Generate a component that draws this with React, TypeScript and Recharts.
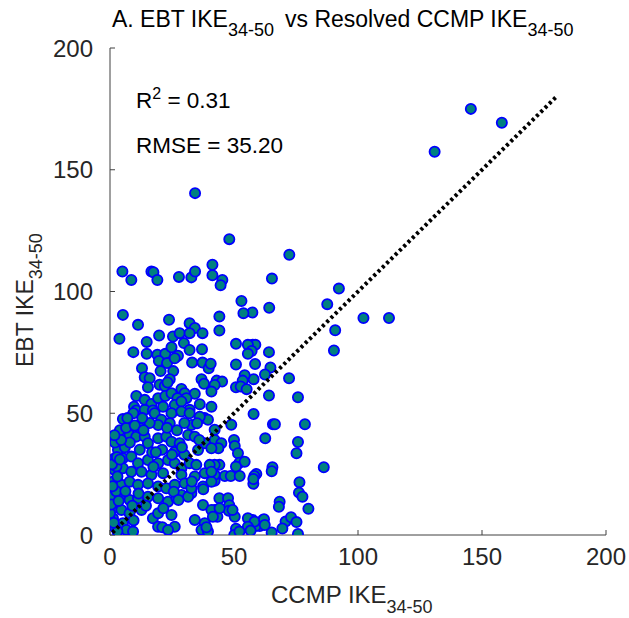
import React from 'react';
import { ScatterChart, Scatter, XAxis, YAxis } from 'recharts';

const ccmp = [
  158,145.5,130.9,34.3,112.5,102.2,92.3,87.6,90.8,90.3,
  86.2,48.1,72.3,65.3,41.3,5.0,8.6,16.7,17.5,19.1,
  27.8,32.8,34.3,41.3,45.3,44.6,64.2,57.4,53.8,53,
  44.1,44.1,57.5,58.6,55.6,50.8,57.1,55.6,64.1,58.5,
  50.8,64.7,62.5,57.9,54.3,53.5,43,45.2,42.2,50.8,
  52.7,55.1,72.2,64.1,75.8,57.9,65.7,66.5,78.6,62.6,
  75.8,75.2,65.5,65.2,59,58.2,57.8,76.4,76.2,77.6,
  68.4,68.1,80,61.7,57.4,60.4,58.8,65.2,70.8,73,
  75.2,69.5,75.8,48.9,42.2,44.9,43.7,50,50.3,51.6,
  52.2,54.3,50.8,44.1,42.2,46.3,48.7,52.3,57.8,42.2,
  44.1,47.6,48.1,47.9,42.2,43.3,50.3,55.6,58.3,62.1,
  62.4,55.6,56.7,50.8,50.1,52.2,
  5.2,11.3,23.8,3.8,14.8,19.8,25.4,28.1,32.1,34.2,
  37.3,32.1,9.4,14.8,19.1,22.3,24.8,29.8,32.1,37.1,
  27.4,19.7,23,26.1,33.1,37.3,39.8,40.6,12.9,20.4,
  25.5,14,16,24.1,15.3,20,22.1,23.2,36.9,37.9,
  40.9,28.8,30.1,34.2,36.2,10.6,14,16.7,19.4,22.3,
  24.8,27.2,30.8,21.4,26.1,28.8,32.1,9.7,10.6,14,
  17.3,40.9,
  5.2,9.4,18,20.7,24.8,28.8,32.1,24.1,19.4,32.8,
  38.2,39.5,42.2,7.9,10.6,14,15.3,19.4,22.7,24.8,
  28.1,31.5,34.2,38.2,40.9,35.5,1.9,5.2,8.6,11.3,
  15.3,19.4,23.4,26.1,28.8,32.1,1.9,5.2,8.6,12.7,
  16.7,21.4,28.8,34.2,38.2,42.2,1.2,4.6,7.9,11.3,
  15.3,19.4,22.7,26.1,30.1,32.8,37.5,40.9,0.6,3.9,
  7.9,11.3,15.3,19.4,23.4,26.8,37.5,40.9,41.5,1.2,
  4.6,7.9,12.7,17.3,19.4,24.8,26.1,1.2,5.2,6.6,
  9.3,1.9,34.2,38.2,36.9,39.5,28.8,31.5,
  36.2,35.1,40.2,40.9,34.8,37.6,32.8,25.7,27.6,44.2,
  49.4,38.9,19.4,21.1,23.4,2.6,0,0.5,2.5,3,
  0.8,3.2,2,4,6,3,6.5,8,12,16,
  12,17,21,26,30,23,27,30,13,36,4.5,
  1.5,3.5,1,2.8,6.2,9,11.5,17.5,21.5,25,
  29,33,9.5,14.5,18.5,10,13.5,7,4,1.8,
];

const ebt = [
  169.3,175,157.4,140.4,89.1,89.1,101.2,94.8,84.1,75.8,
  27.8,121.5,115.1,105.3,111,108.2,104.7,108.2,107.9,104.7,
  106,105.8,108.2,106.7,104.7,102.6,93.3,91.4,91.1,96.1,
  89.7,84,78.1,78.1,78.1,78.5,75.6,74.4,75.1,70.2,
  70,68.8,65.9,64,65.6,63.4,63.4,63,61.6,60.7,
  61,59.9,64.4,57.3,56.6,49.7,45.5,45.5,45.5,39.7,
  38.2,33.6,27.8,26.2,25.1,24.2,21,21.7,17.4,15.7,
  13.7,11.6,10.8,6.2,6.2,3.7,3.7,1,5.5,7.3,
  5.3,2.7,0.4,45.3,39,37.7,35.6,39,36.6,33.6,
  29.7,30.1,28.1,28.8,28.8,24.2,24.2,24.2,23,22.3,
  15.1,15.1,12.2,10,10.3,7.5,7.5,6.9,5.5,6.5,
  4.1,3.4,1.8,2.6,0,1.4,
  90.4,86.3,88.4,80.6,79.3,81.9,81.5,82.9,87,85,
  82.9,82.9,75.1,74.4,74,74.4,77.1,78.8,76,76.3,
  73.6,71.5,70.6,72.6,70.8,70.8,68.5,70.3,68.5,67.3,
  67.3,64.8,64.4,64,60.7,61.7,61.2,62.6,64,62.1,
  58.9,60,58.2,58,53.7,57.1,55.5,53.8,56.2,57.1,
  58.2,56.2,56.2,52.7,53.4,54.8,51.4,52.7,51.1,51.4,
  51.1,52.7,
  47.6,50,50,47.3,50,50.7,50,45.9,45.2,45.2,
  48,47.3,43.2,41.1,40.4,40.4,37.7,39.7,40.4,38.3,
  37.7,41.1,40.4,37.7,35.6,34.9,31.5,31.5,32.2,29.5,
  30.8,29.5,30.8,29.5,27.4,29.5,26.7,27.4,26,26,
  24.7,25.4,24.7,24,25.4,24.7,21.9,20.6,21.9,20.6,
  21.2,19.9,19.2,20.6,21.2,17.1,19.9,21.9,15.7,15.1,
  14.4,15.1,15.7,15.1,13.7,15.1,12.3,10.3,7.5,11,
  10.3,8.9,10.3,6.9,8.9,8.2,3.4,6.9,4.8,2.1,
  1.4,3.4,6.2,4.8,2.1,1.4,16.4,15.7,
  48.6,45.9,28.8,26,28.8,18.8,19.2,17.8,14.4,11,
  10.3,3.2,3.4,3.2,2.1,28.1,8.9,12.5,18,24,
  29,35,38,43,36,1.5,44,38,44,46,
  35,34,35,34,33,44,43,46,48,39,39,
  5,14,20,32,18,12,17,28,11,33,
  36,22,6,12,34,45,43,48,31,41,
];

const fitX = [1, 180];
const fitY = [1, 180];
const xTicks = [0, 50, 100, 150, 200];
const yTicks = [0, 50, 100, 150, 200];

const points = ccmp.map((x, i) => ({ x, y: ebt[i] }));
const fitLine = fitX.map((x, i) => ({ x, y: fitY[i] }));

const FONT = '"Liberation Sans", Arial, Helvetica, sans-serif';

const Dot = (props: any) => (
  <circle cx={props.cx} cy={props.cy} r={5.1} fill="#008080" stroke="#0000ff" strokeWidth={1.8} />
);
const NoDot = () => <g />;

const tickStyle = { fontSize: 24, fill: '#262626', fontFamily: FONT };

export default function App() {
  const W = 629;
  const H = 618;
  return (
    <div style={{ position: 'absolute', left: 0, top: 0, width: W, height: H, fontFamily: FONT }}>
      <ScatterChart width={W} height={H} margin={{ top: 48, right: 23, left: 0, bottom: 0 }}>
        <XAxis
          type="number"
          dataKey="x"
          domain={[0, 200]}
          ticks={xTicks}
          height={83}
          tickSize={-5}
          tickMargin={18}
          axisLine={{ stroke: '#404040', strokeWidth: 1 }}
          tickLine={{ stroke: '#404040' }}
          tick={tickStyle}
          allowDataOverflow
        />
        <YAxis
          type="number"
          dataKey="y"
          domain={[0, 200]}
          ticks={yTicks}
          width={110}
          tickSize={-5}
          tickMargin={22}
          axisLine={{ stroke: '#404040', strokeWidth: 1 }}
          tickLine={{ stroke: '#404040' }}
          tick={tickStyle}
          allowDataOverflow
        />
        <Scatter data={points} shape={Dot} isAnimationActive={false} />
        <Scatter
          data={fitLine}
          shape={NoDot}
          line={{ stroke: '#000000', strokeWidth: 4, strokeDasharray: '3 3' }}
          isAnimationActive={false}
        />
      </ScatterChart>
      <svg
        width={W}
        height={H}
        style={{ position: 'absolute', left: 0, top: 0, pointerEvents: 'none' }}
        fontFamily={FONT}
      >
        <text x={112} y={27} fontSize={23} fill="#000">
          A. EBT IKE
          <tspan fontSize={18} dy={9}>34-50</tspan>
          <tspan x={285} dy={-9}>vs Resolved CCMP IKE</tspan>
          <tspan fontSize={18} dy={9}>34-50</tspan>
        </text>
        <text x={136} y={108} fontSize={22.5} fill="#000">
          R<tspan fontSize={16} dy={-9}>2</tspan>
          <tspan dy={9}> = 0.31</tspan>
        </text>
        <text x={136} y={153} fontSize={22.5} fill="#000">
          RMSE = 35.20
        </text>
        <text x={271} y={603} fontSize={24} fill="#262626">
          CCMP IKE
          <tspan fontSize={18} dy={10}>34-50</tspan>
        </text>
        <text transform="translate(33,367) rotate(-90)" fontSize={23} fill="#262626">
          EBT IKE
          <tspan fontSize={18} dy={9}>34-50</tspan>
        </text>
      </svg>
    </div>
  );
}
